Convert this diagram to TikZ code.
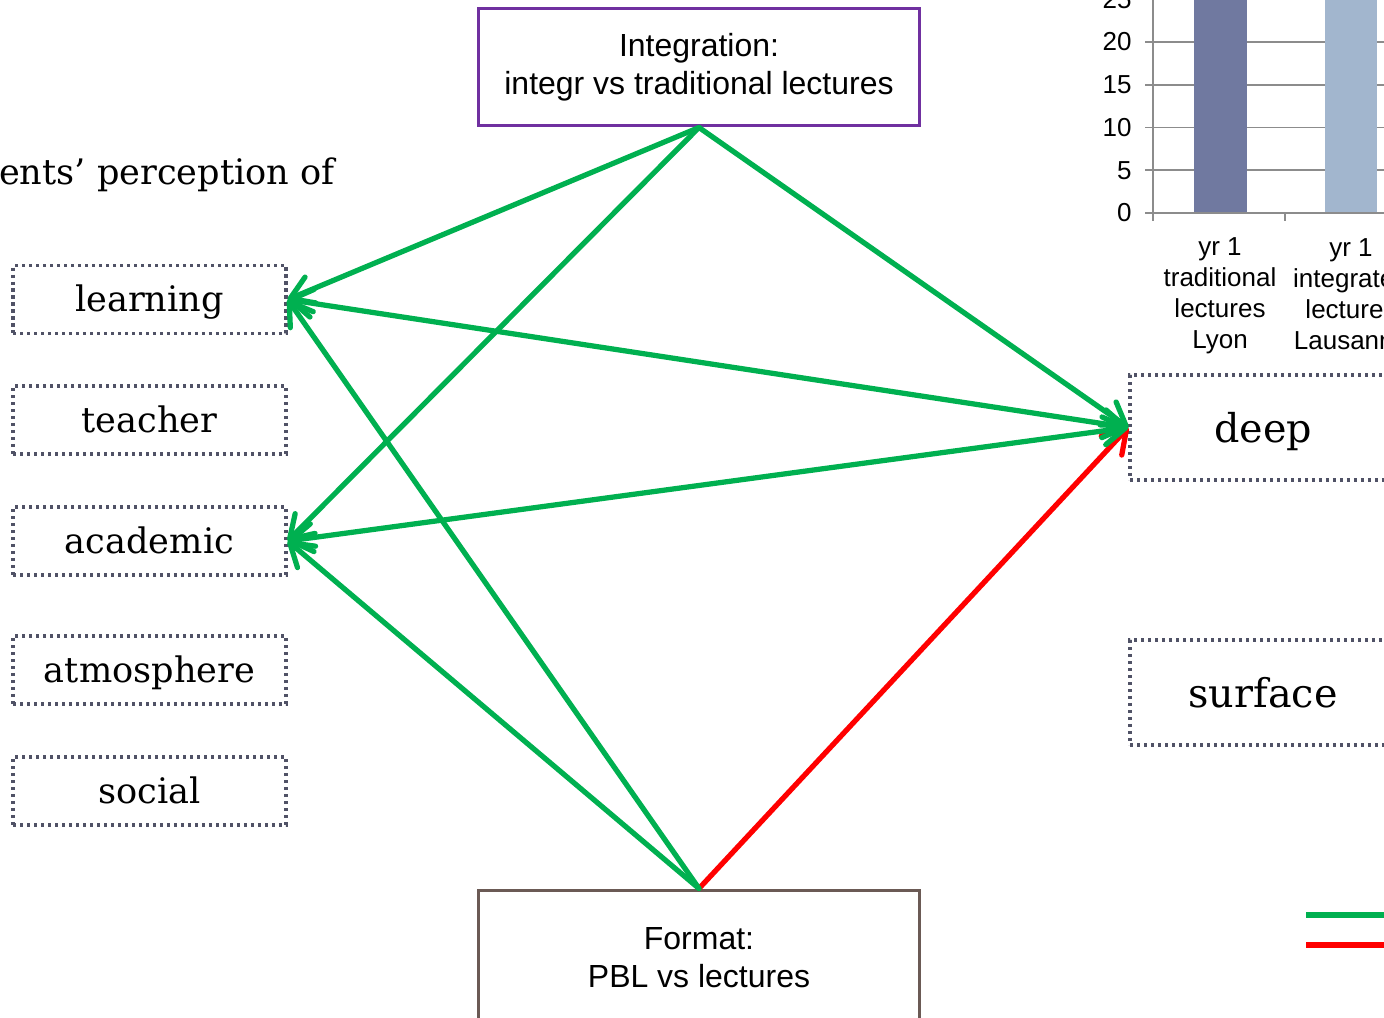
\documentclass[tikz,border=0pt]{standalone}
\usepackage{fontspec}
\newfontfamily\slidesans{Liberation Sans}
\newfontfamily\slideserif{DejaVu Serif}
\usetikzlibrary{arrows.meta}
\definecolor{linkgreen}{HTML}{00B050}
\definecolor{linkred}{HTML}{FF0000}
\definecolor{framepurple}{HTML}{7030A0}
\definecolor{framebrown}{HTML}{6B5A55}
\definecolor{dotgray}{HTML}{505266}
\definecolor{barone}{HTML}{7079A0}
\definecolor{bartwo}{HTML}{A2B6CE}
\definecolor{gridgray}{HTML}{8C8C8C}

\begin{document}
\begin{tikzpicture}[
    x=.02cm,y=-.02cm,
    factor/.style={draw,line width=.06cm,inner sep=0pt,align=center,
        font=\slidesans\fontsize{18.2}{21.6}\selectfont,minimum width=8.84cm},
    percept/.style={draw=dotgray,line width=.07cm,dash pattern=on .065cm off .075cm,
        inner sep=0pt,minimum width=5.46cm,minimum height=1.36cm,
        text height=19pt,text depth=5pt,
        font=\slideserif\fontsize{20}{24}\selectfont},
    outcome/.style={percept,minimum width=5.32cm,minimum height=2.1cm,
        text height=22pt,text depth=5.5pt,
        font=\slideserif\fontsize{22.6}{27}\selectfont},
    barb/.tip={Straight Barb[length=4.4mm,width=5.6mm,round]},
    link/.style={line width=.105cm,line cap=round,-barb},
    twoway/.style={link,barb-barb},
    tick label/.style={font=\slidesans\fontsize{14.8}{17.6}\selectfont,inner sep=0pt},
    gridline/.style={gridgray,line width=.035cm},
    key/.style={line width=.11cm}
]
    \useasboundingbox (0,0) rectangle (1384,1018);
    \clip (0,0) rectangle (1384,1018);

    % chart in the corner, cut by the frame
    \foreach \v in {0,5,...,25} {
        \draw[gridline] (1145,213-8.55*\v) -- (1400,213-8.55*\v);
        \node[tick label,anchor=east] (ytick\v) at (1132,213-8.55*\v) {\v};
    }
    \fill[barone] (1194,213) rectangle (1247,-20);
    \fill[bartwo] (1325,213) rectangle (1377,-20);
    \draw[gridline] (1153,-20) -- (1153,213) -- (1400,213);
    \foreach \x in {1153,1285}
        \draw[gridline] (\x,213) -- (\x,221);
    \node[tick label,align=center] (catone) at (1220,296) {yr 1\\traditional\\lectures\\Lyon};
    \node[tick label,align=center] (cattwo) at (1351,294) {yr 1\\integrated\\lectures\\Lausanne};

    % legend keys
    \draw[key,linkgreen] (1306,915) -- (1400,915);
    \draw[key,linkred] (1306,945) -- (1400,945);

    \node[anchor=base east,inner sep=0pt,font=\slideserif\fontsize{20}{24}\selectfont]
        (title) at (335,184) {ents’ perception of};

    \node[factor,draw=framepurple,minimum height=2.36cm] (integ) at (699,67)
        {Integration:\\integr vs traditional lectures};
    \node[factor,draw=framebrown,minimum height=2.7cm] (format) at (699,957.5)
        {Format:\\PBL vs lectures};

    \foreach \name/\y in {learning/299.5,teacher/420,academic/541,atmosphere/670,social/791}
        \node[percept] (\name) at (149.5,\y) {\name};

    \node[outcome] (deep) at (1263,427.5) {deep};
    \node[outcome] (surface) at (1263,692.5) {surface};

    % red = negative link, green = positive
    \draw[link,linkred] (format.north) -- (deep.west);
    \draw[link,linkgreen] (integ.south) -- (learning.east);
    \draw[link,linkgreen] (integ.south) -- (academic.east);
    \draw[link,linkgreen] (integ.south) -- (deep.west);
    \draw[link,linkgreen] (format.north) -- (learning.east);
    \draw[link,linkgreen] (format.north) -- (academic.east);
    \draw[twoway,linkgreen] (learning.east) -- (deep.west);
    \draw[twoway,linkgreen] (academic.east) -- (deep.west);
\end{tikzpicture}
\end{document}
